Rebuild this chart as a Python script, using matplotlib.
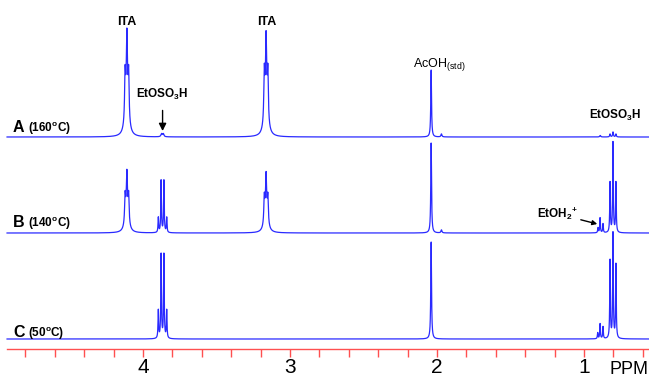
import numpy as np
import matplotlib
matplotlib.use("Agg")
import matplotlib.pyplot as plt
from matplotlib.ticker import FixedLocator, FuncFormatter

plt.rcParams['font.family'] = ['Liberation Sans', 'DejaVu Sans']
plt.rcParams['mathtext.fontset'] = 'custom'
plt.rcParams['mathtext.rm'] = 'Liberation Sans'
plt.rcParams['mathtext.bf'] = 'Liberation Sans:bold'

# peak lists: position (ppm), height, half width (ppm)
peaksA_ppm = [4.110, 4.122, 4.110, 4.098, 3.874, 3.862, 3.163, 3.175, 3.163, 3.151,
              2.040, 1.970, 0.890, 0.823, 0.803, 0.783]
peaksA_h = [45, 44, 56, 44, 3, 3, 44, 46, 54, 46,
            67, 3, 1.5, 3, 5, 3]
peaksA_w = [0.012, 0.0038, 0.0035, 0.0038, 0.005, 0.005, 0.012, 0.0038, 0.0035, 0.0038,
            0.003, 0.004, 0.004, 0.003, 0.003, 0.003]

peaksB_ppm = [4.110, 4.122, 4.110, 4.098, 3.896, 3.877, 3.858, 3.839,
              3.163, 3.175, 3.163, 3.151, 2.040, 1.970,
              0.905, 0.891, 0.871, 0.823, 0.803, 0.783]
peaksB_h = [26, 26, 33, 26, 15, 52, 52, 15,
            25, 25, 32, 25, 90, 3,
            5, 15, 9, 50, 90, 50]
peaksB_w = [0.012, 0.0038, 0.0035, 0.0038, 0.0025, 0.0025, 0.0025, 0.0025,
            0.012, 0.0038, 0.0035, 0.0038, 0.003, 0.004,
            0.0025, 0.0025, 0.0025, 0.0025, 0.0025, 0.0025]

peaksC_ppm = [3.896, 3.877, 3.858, 3.839, 2.040,
              0.907, 0.891, 0.871, 0.823, 0.803, 0.783]
peaksC_h = [28, 84, 84, 28, 97,
            6, 15, 12, 78, 105, 74]
peaksC_w = [0.0025, 0.0025, 0.0025, 0.0025, 0.003,
            0.0025, 0.0025, 0.0025, 0.0025, 0.0025, 0.0025]

trace_names = ["A", "B", "C"]
trace_temps = ["160", "140", "50"]
baselines = [137, 233, 339]   # pixel rows of each trace baseline

tick_ppm = [4.8, 4.6, 4.4, 4.2, 4.0, 3.8, 3.6, 3.4, 3.2, 3.0, 2.8, 2.6, 2.4,
            2.2, 2.0, 1.8, 1.6, 1.4, 1.2, 1.0, 0.8, 0.6]
tick_labels = {4.0: "4", 3.0: "3", 2.0: "2", 1.0: "1"}


def spectrum(x, pos, hts, wds):
    y = np.zeros_like(x)
    for p, h, w in zip(pos, hts, wds):
        y += h * w**2 / ((x - p)**2 + w**2)
    return y


fig = plt.figure(figsize=(6.49, 3.77), dpi=100)
ax = fig.add_axes([0, 0, 1, 1])
ax.set_xlim(4.973, 0.558)
ax.set_ylim(377, 0)

x = np.linspace(4.925, 0.558, 30000)
peaks = [(peaksA_ppm, peaksA_h, peaksA_w),
         (peaksB_ppm, peaksB_h, peaksB_w),
         (peaksC_ppm, peaksC_h, peaksC_w)]
for (pos, hts, wds), base in zip(peaks, baselines):
    ax.plot(x, base - spectrum(x, pos, hts, wds), color="#2a2aff", lw=0.9)

# trace labels
label_y = [132, 227, 337]
for nm, t, ly in zip(trace_names, trace_temps, label_y):
    ax.text(4.885, ly, nm, fontsize=11.5, fontweight="bold", va="baseline")
    ax.text(4.78, ly, "(" + t + r"$^{\mathbf{o}}$C)", fontsize=8.5,
            fontweight="bold", va="baseline")

# peak annotations
ax.text(4.11, 25, "ITA", fontsize=9, fontweight="bold", ha="center", va="baseline")
ax.text(3.16, 25, "ITA", fontsize=9, fontweight="bold", ha="center", va="baseline")
ax.annotate(r"EtOSO$_\mathbf{3}$H", xy=(3.867, 131), xytext=(3.867, 98),
            fontsize=8.5, fontweight="bold", ha="center", va="baseline",
            arrowprops=dict(arrowstyle="-|>", color="black", lw=1,
                            mutation_scale=11, shrinkA=4, shrinkB=0))
ax.text(2.165, 67, r"AcOH$_{\mathrm{(std)}}$", fontsize=9, ha="left", va="baseline")
ax.text(0.79, 119, r"EtOSO$_\mathbf{3}$H", fontsize=8.5, fontweight="bold",
        ha="center", va="baseline")
ax.annotate(r"EtOH$_\mathbf{2}$$^\mathbf{+}$", xy=(0.91, 224), xytext=(1.32, 218),
            fontsize=8.5, fontweight="bold", ha="left", va="baseline",
            arrowprops=dict(arrowstyle="-|>", color="black", lw=1,
                            mutation_scale=7, shrinkA=0, shrinkB=0),
            annotation_clip=False)

# ppm axis
for s in ["top", "left", "right"]:
    ax.spines[s].set_visible(False)
ax.spines["bottom"].set_position(("data", 349))
ax.spines["bottom"].set_bounds(4.925, 0.558)
ax.spines["bottom"].set_color("#ff5050")
ax.spines["bottom"].set_linewidth(1.0)
ax.xaxis.set_major_locator(FixedLocator(tick_ppm))
ax.xaxis.set_major_formatter(FuncFormatter(
    lambda v, p: tick_labels.get(round(v, 1), "")))
ax.tick_params(axis="x", direction="out", length=6, width=1, color="#ff5050",
               labelsize=15, pad=0.5)
ax.set_yticks([])
ax.text(0.83, 374, "PPM", fontsize=13, ha="left", va="baseline")

fig.savefig("out.png", dpi=100)
